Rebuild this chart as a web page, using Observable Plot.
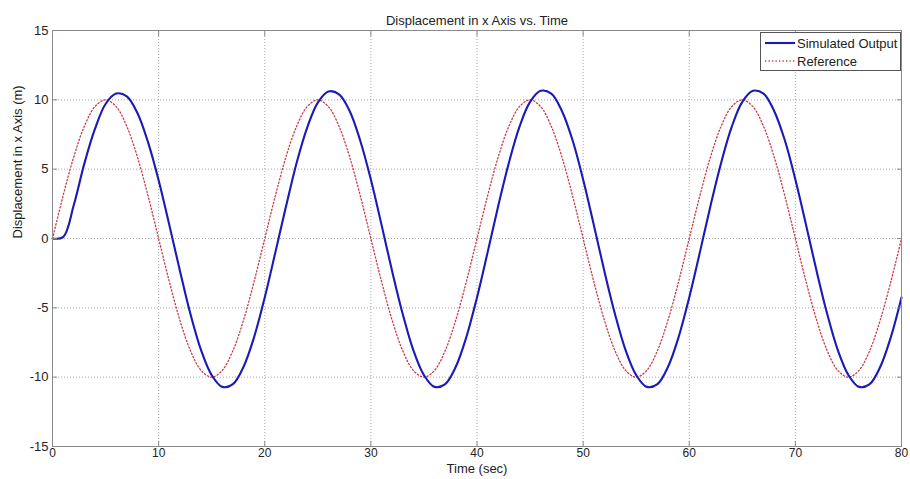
<!DOCTYPE html>
<html>
<head>
<meta charset="utf-8">
<script src="https://cdn.jsdelivr.net/npm/d3@7"></script>
<script src="https://cdn.jsdelivr.net/npm/@observablehq/plot@0.6"></script>
<style>
  html, body { margin: 0; padding: 0; background: #fff; }
  #chart svg { display: block; font-family: "Liberation Sans", Arial, sans-serif; }
</style>
</head>
<body>
<div id="chart"></div>
<script>
// Time samples (sec)
const time = d3.range(0, 81, 1);
// Simulated output (m) at each second
const simulated = [
  0, 0.1, 2.4, 5.4, 7.9, 9.7, 10.45, 10.25, 9.05, 6.95,
  4.2, 1.0, -2.3, -5.45, -8.05, -9.85, -10.7, -10.5, -9.25, -7.1,
  -4.25, -1.0, 2.3, 5.45, 8.0, 9.8, 10.6, 10.4, 9.2, 7.05,
  4.25, 1.0, -2.35, -5.45, -8.05, -9.85, -10.7, -10.5, -9.25, -7.1,
  -4.25, -1.0, 2.35, 5.45, 8.05, 9.85, 10.65, 10.45, 9.2, 7.1,
  4.25, 1.0, -2.35, -5.45, -8.05, -9.85, -10.7, -10.5, -9.25, -7.1,
  -4.25, -1.0, 2.35, 5.45, 8.05, 9.85, 10.65, 10.45, 9.2, 7.1,
  4.25, 1.0, -2.35, -5.45, -8.05, -9.85, -10.7, -10.5, -9.25, -7.1,
  -4.25
];
// Reference (m) at each second
const reference = [
  0, 3.09, 5.88, 8.09, 9.51, 10, 9.51, 8.09, 5.88, 3.09,
  0, -3.09, -5.88, -8.09, -9.51, -10, -9.51, -8.09, -5.88, -3.09,
  0, 3.09, 5.88, 8.09, 9.51, 10, 9.51, 8.09, 5.88, 3.09,
  0, -3.09, -5.88, -8.09, -9.51, -10, -9.51, -8.09, -5.88, -3.09,
  0, 3.09, 5.88, 8.09, 9.51, 10, 9.51, 8.09, 5.88, 3.09,
  0, -3.09, -5.88, -8.09, -9.51, -10, -9.51, -8.09, -5.88, -3.09,
  0, 3.09, 5.88, 8.09, 9.51, 10, 9.51, 8.09, 5.88, 3.09,
  0, -3.09, -5.88, -8.09, -9.51, -10, -9.51, -8.09, -5.88, -3.09,
  0
];
const xTicks = [0, 10, 20, 30, 40, 50, 60, 70, 80];
const yTicks = [-15, -10, -5, 0, 5, 10, 15];
const seriesNames = ["Simulated Output", "Reference"];
const titleText = "Displacement in x Axis vs. Time";
const xLabel = "Time (sec)";
const yLabel = "Displacement in x Axis (m)";

const simData = time.map((t, i) => ({t, v: simulated[i]}));
const refData = time.map((t, i) => ({t, v: reference[i]}));

const blue = "#1a1ab8";
const red = "#cc3848";
const axisGray = "#8a8a8a";
const gridGray = "#a8a8a8";
const fmt = d => String(d);

const plot = Plot.plot({
  width: 910,
  height: 479,
  marginLeft: 52,
  marginRight: 9,
  marginTop: 30,
  marginBottom: 33,
  style: {fontFamily: "Liberation Sans, Arial, sans-serif", fontSize: "13px", color: "#222", background: "#fff"},
  x: {domain: [0, 80]},
  y: {domain: [-15, 15]},
  marks: [
    Plot.gridX(xTicks, {stroke: gridGray, strokeOpacity: 1, strokeDasharray: "1,2"}),
    Plot.gridY(yTicks, {stroke: gridGray, strokeOpacity: 1, strokeDasharray: "1,2"}),
    Plot.line(refData, {x: "t", y: "v", stroke: red, strokeWidth: 1.3, strokeDasharray: "1.3,2.2", curve: "catmull-rom"}),
    Plot.line(simData, {x: "t", y: "v", stroke: blue, strokeWidth: 2.1, curve: "catmull-rom"}),
    Plot.frame({stroke: axisGray}),
    Plot.axisX(xTicks, {anchor: "bottom", tickSize: 0, tickPadding: 2, tickFormat: fmt, label: null, fontSize: 12, color: "#222"}),
    Plot.axisY(yTicks, {anchor: "left", tickSize: 0, tickPadding: 4, tickFormat: fmt, label: null, fontSize: 13, color: "#222"}),
    Plot.axisX(xTicks, {anchor: "bottom", tickSize: -5, tickFormat: () => "", label: null, stroke: axisGray}),
    Plot.axisX(xTicks, {anchor: "top", tickSize: -5, tickFormat: () => "", label: null, stroke: axisGray}),
    Plot.axisY(yTicks, {anchor: "left", tickSize: -5, tickFormat: () => "", label: null, stroke: axisGray}),
    Plot.axisY(yTicks, {anchor: "right", tickSize: -5, tickFormat: () => "", label: null, stroke: axisGray}),
    Plot.text([titleText], {frameAnchor: "top", dy: -15, fontSize: 13, fill: "#222"}),
    Plot.text([xLabel], {frameAnchor: "bottom", dy: 26, fontSize: 13, fill: "#222"}),
    Plot.text([yLabel], {frameAnchor: "left", dx: -35, rotate: -90, fontSize: 13, fill: "#222"})
  ]
});

// Legend (top-right, inside plot frame)
const svg = d3.select(plot);
const lg = svg.append("g")
  .attr("font-family", "Liberation Sans, Arial, sans-serif")
  .attr("font-size", 13).attr("fill", "#222").attr("text-anchor", "start");
lg.append("rect").attr("x", 760.5).attr("y", 32.5).attr("width", 140).attr("height", 38)
  .attr("fill", "#fff").attr("stroke", "#555");
const entries = [
  {name: seriesNames[0], stroke: blue, width: 2.1, dash: null, y: 43},
  {name: seriesNames[1], stroke: red, width: 1.3, dash: "1.3,2.2", y: 61}
];
for (const e of entries) {
  const ln = lg.append("line").attr("x1", 765).attr("x2", 795).attr("y1", e.y).attr("y2", e.y)
    .attr("stroke", e.stroke).attr("stroke-width", e.width);
  if (e.dash) ln.attr("stroke-dasharray", e.dash);
  lg.append("text").attr("x", 797).attr("y", e.y + 4.5).attr("text-anchor", "start").text(e.name);
}

document.getElementById("chart").appendChild(plot);
</script>
</body>
</html>
